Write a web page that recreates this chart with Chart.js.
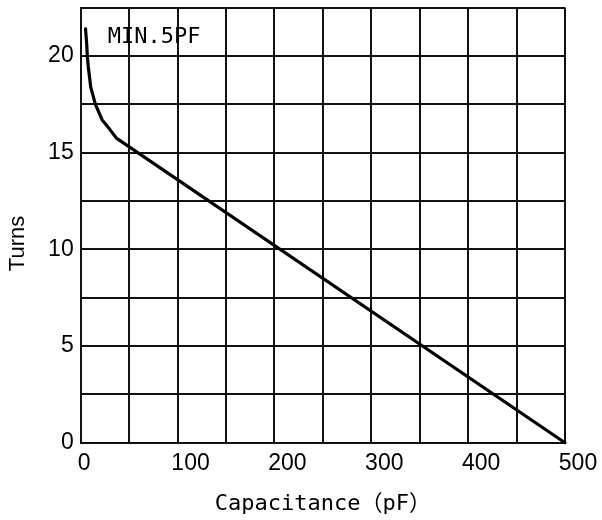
<!DOCTYPE html>
<html>
<head>
<meta charset="utf-8">
<script src="https://cdn.jsdelivr.net/npm/chart.js@4"></script>
<style>
  html, body { margin: 0; padding: 0; background: #fff; }
</style>
</head>
<body>
<canvas id="coilChart" width="602" height="520"></canvas>
<script>
// Values (capacitance in pF, turns)
const capacitancePF = [5, 6.2, 6.8, 7.8, 10.3, 15.1, 22.0, 30.0, 36.8, 500];
const turns = [21.4, 20.6, 20.0, 19.45, 18.4, 17.5, 16.7, 16.2, 15.75, 0];

const xTickLabels = [0, 100, 200, 300, 400, 500];
const yTickLabels = [0, 5, 10, 15, 20];
const noteText = 'MIN.5PF';

const tickFont = { family: '"Liberation Sans", Arial, sans-serif', size: 23 };
const monoFont = '"DejaVu Sans Mono", "Noto Sans CJK SC", monospace';

// Writes the MIN.5PF note inside the plot, positioned through the scales
const notePlugin = {
    id: 'note',
    afterDatasetsDraw(chart) {
        const { ctx, scales } = chart;
        ctx.save();
        ctx.font = '22px ' + monoFont;
        ctx.fillStyle = '#000';
        ctx.textBaseline = 'middle';
        ctx.textAlign = 'left';
        ctx.fillText(noteText, scales.x.getPixelForValue(28), scales.y.getPixelForValue(20.95));
        ctx.restore();
    }
};

const ctx = document.getElementById('coilChart').getContext('2d');
const chart = new Chart(ctx, {
    type: 'line',
    data: {
        datasets: [{
            data: capacitancePF.map((c, i) => ({ x: c, y: turns[i] })),
            borderColor: '#000',
            borderWidth: 3.2,
            pointRadius: 0,
            tension: 0,
            borderJoinStyle: 'round',
            borderCapStyle: 'round',
            clip: false
        }]
    },
    options: {
        responsive: false,
        animation: false,
        layout: { padding: { top: 7.5, right: 37, bottom: 0, left: 0 } },
        plugins: { legend: { display: false }, tooltip: { enabled: false } },
        scales: {
            x: {
                type: 'linear',
                min: 0,
                max: 500,
                afterFit: scale => {
                    scale.height = 77.3;
                    scale.paddingLeft = 0;
                    scale.paddingRight = 0;
                },
                grid: { color: '#111', lineWidth: 2, drawTicks: false },
                border: { color: '#111', width: 2 },
                ticks: {
                    stepSize: 50,
                    autoSkip: false,
                    maxRotation: 0,
                    padding: 7,
                    labelOffset: 13,
                    color: '#000',
                    font: tickFont,
                    // the "0" sits left of the others in the reference
                    callback: v => xTickLabels.includes(v) ? (v === 0 ? '0   ' : String(v)) : ''
                },
                title: {
                    display: true,
                    text: 'Capacitance（pF）',
                    color: '#000',
                    font: { family: monoFont, size: 22 },
                    padding: { top: 0, bottom: 3 }
                }
            },
            y: {
                min: 0,
                max: 22.5,
                afterFit: scale => {
                    scale.width = 80.7;
                    scale.paddingTop = 0;
                    scale.paddingBottom = 0;
                },
                grid: { color: '#111', lineWidth: 2, drawTicks: false },
                border: { color: '#111', width: 2 },
                ticks: {
                    stepSize: 2.5,
                    autoSkip: false,
                    padding: 7,
                    color: '#000',
                    font: tickFont,
                    callback: v => yTickLabels.some(t => Math.abs(t - v) < 1e-6) ? String(Math.round(v)) : ''
                },
                title: {
                    display: true,
                    // trailing spaces push the word a little lower, as in the reference
                    text: 'Turns      ',
                    color: '#000',
                    font: { family: '"Liberation Sans", Arial, sans-serif', size: 22 },
                    padding: { top: 5, bottom: 0 }
                }
            }
        }
    },
    plugins: [notePlugin]
});
</script>
</body>
</html>
